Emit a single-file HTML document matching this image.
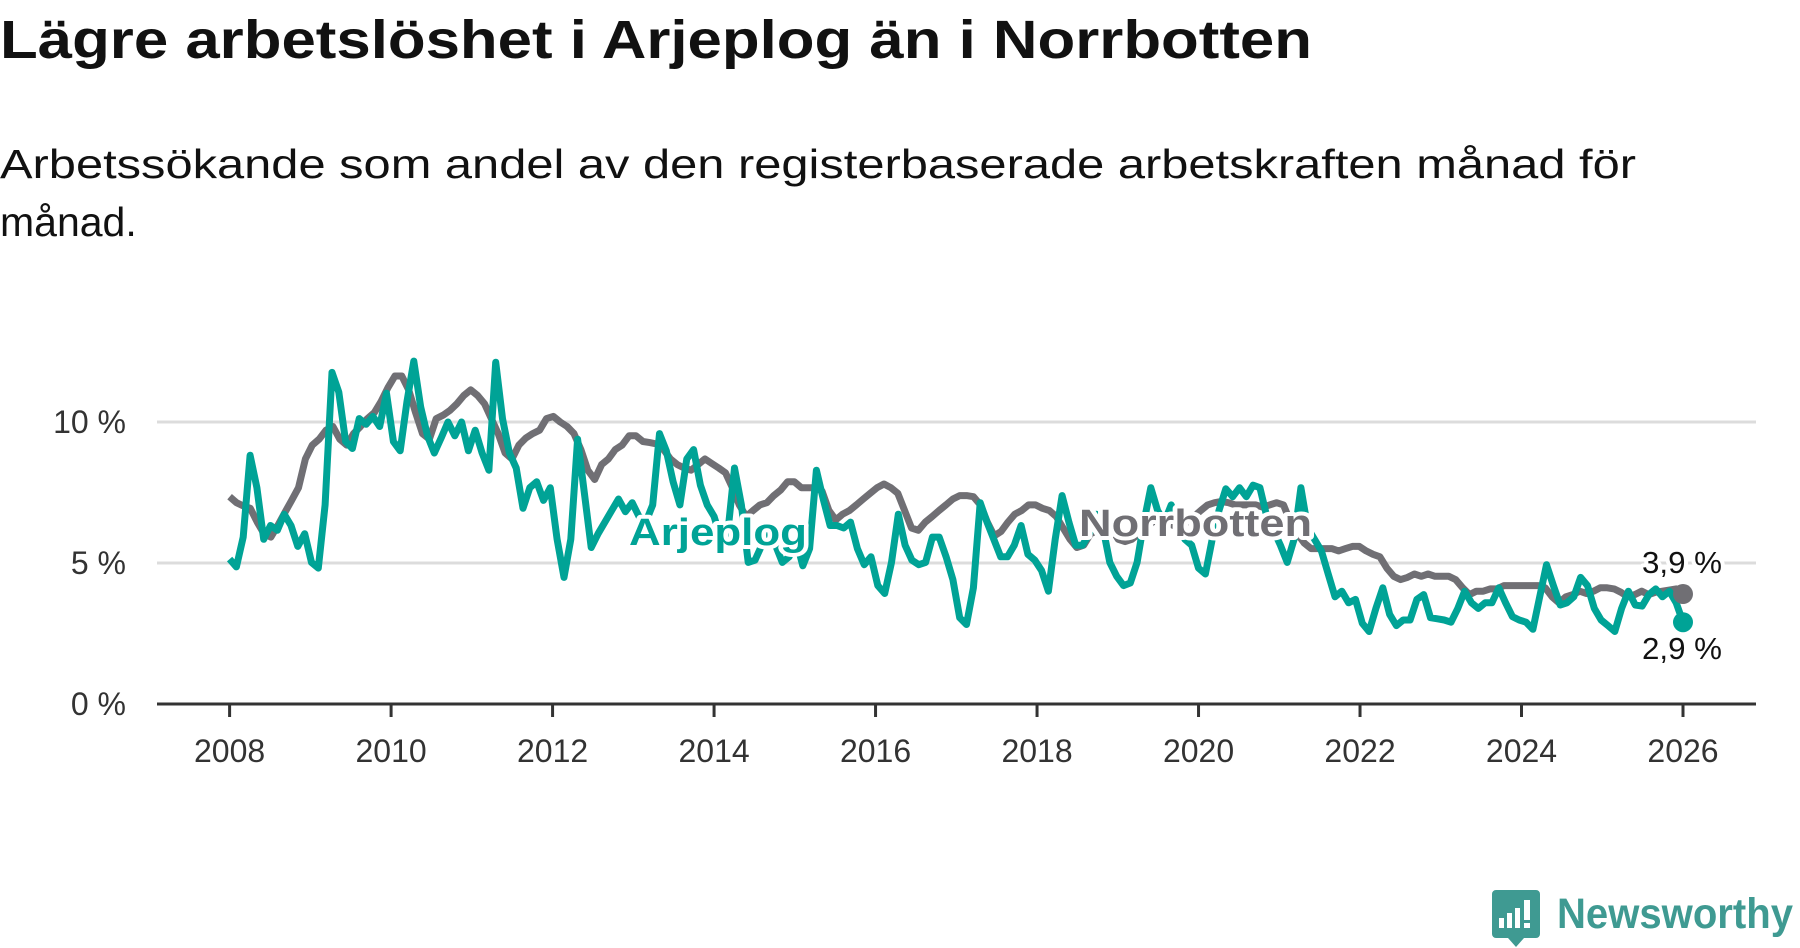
<!DOCTYPE html>
<html><head><meta charset="utf-8"><style>
html,body{margin:0;padding:0;background:#fff;width:1800px;height:948px;overflow:hidden}
svg{display:block;font-family:"Liberation Sans",sans-serif}
</style></head><body>
<svg id="chart" width="1800" height="948" viewBox="0 0 1800 948" xmlns="http://www.w3.org/2000/svg">
<text x="0" y="58" font-size="54" font-weight="bold" fill="#111" textLength="1312" lengthAdjust="spacingAndGlyphs">Lägre arbetslöshet i Arjeplog än i Norrbotten</text>
<text x="0" y="178" font-size="41" fill="#111" textLength="1636" lengthAdjust="spacingAndGlyphs">Arbetssökande som andel av den registerbaserade arbetskraften månad för</text>
<text x="0" y="236" font-size="41" fill="#111">månad.</text>
<g id="grid"></g>
<g id="series"></g>
<g id="labels"></g>
<g>
<path d="M1492 890 h44 a4 4 0 0 1 4 4 v40 a4 4 0 0 1 -4 4 h-12 l-8 9 l-8 -9 h-12 a4 4 0 0 1 -4 -4 v-40 a4 4 0 0 1 4 -4z" fill="#3f9a92"/>
<rect x="1499" y="918" width="5" height="10" fill="#fff"/><rect x="1507" y="913" width="5" height="15" fill="#fff"/><rect x="1515" y="908" width="5" height="20" fill="#fff"/><rect x="1524" y="900" width="6" height="20" fill="#fff"/><rect x="1524" y="923" width="6" height="5" fill="#fff"/>
<text x="1557" y="928" font-size="43" font-weight="bold" fill="#3f9a92" textLength="236" lengthAdjust="spacingAndGlyphs">Newsworthy</text>
</g>
</svg>
<script>
const yTicks = [0, 5, 10];
const yTickLabels = ["0 %", "5 %", "10 %"];
const xTicks = [2008, 2010, 2012, 2014, 2016, 2018, 2020, 2022, 2024, 2026];
const startYear = 2008;
const endYear = 2026;
const arjeplog = [5.14,4.86,5.92,8.82,7.67,5.84,6.33,6.16,6.73,6.33,5.59,6.04,5.02,4.82,7.06,11.76,11.06,9.31,9.06,10.12,9.92,10.2,9.84,11.02,9.31,8.98,10.73,12.16,10.53,9.51,8.9,9.43,10.0,9.51,10.0,8.98,9.71,8.9,8.29,12.12,10.12,8.9,8.37,6.94,7.67,7.88,7.22,7.67,5.84,4.49,5.84,9.39,7.47,5.55,6.04,6.45,6.86,7.27,6.82,7.14,6.65,6.45,7.06,9.59,8.98,7.88,7.06,8.69,9.02,7.76,7.06,6.65,5.84,6.04,8.37,7.06,5.02,5.1,5.63,6.24,5.63,5.02,5.22,5.84,4.9,5.51,8.29,7.27,6.33,6.33,6.24,6.45,5.51,4.94,5.22,4.2,3.92,5.02,6.73,5.63,5.1,4.94,5.02,5.92,5.92,5.22,4.41,3.06,2.82,4.12,7.14,6.45,5.84,5.22,5.22,5.63,6.33,5.31,5.1,4.73,4.0,5.84,7.39,6.45,5.63,5.63,6.04,6.73,6.24,5.02,4.53,4.2,4.29,5.02,6.45,7.67,6.86,6.45,7.06,6.45,5.84,5.63,4.82,4.61,5.84,6.86,7.63,7.35,7.67,7.35,7.76,7.67,6.65,6.16,5.63,5.02,5.84,7.67,6.24,5.84,5.43,4.61,3.8,4.0,3.59,3.71,2.86,2.57,3.39,4.12,3.18,2.78,2.98,2.98,3.71,3.88,3.06,3.02,2.98,2.9,3.39,4.0,3.59,3.39,3.59,3.59,4.12,3.59,3.1,2.98,2.9,2.65,3.8,4.94,4.2,3.51,3.59,3.8,4.49,4.2,3.39,2.98,2.78,2.57,3.39,4.0,3.51,3.47,3.88,4.08,3.8,4.0,3.59,2.9];
const norrbotten = [7.35,7.14,7.02,6.94,6.45,6.04,5.92,6.33,6.78,7.22,7.67,8.69,9.18,9.39,9.71,9.84,9.39,9.18,9.59,9.84,10.12,10.33,10.73,11.22,11.63,11.63,11.14,10.33,9.59,9.39,10.12,10.24,10.41,10.65,10.94,11.14,10.94,10.65,10.12,9.59,8.9,8.69,9.18,9.43,9.59,9.71,10.12,10.2,10.0,9.84,9.59,9.02,8.29,7.96,8.49,8.69,9.02,9.18,9.51,9.51,9.31,9.27,9.22,9.02,8.69,8.49,8.37,8.29,8.49,8.69,8.53,8.37,8.2,7.67,7.06,6.65,6.86,7.06,7.14,7.39,7.59,7.88,7.88,7.67,7.67,7.67,7.55,6.86,6.53,6.73,6.86,7.06,7.27,7.47,7.67,7.8,7.67,7.47,6.86,6.24,6.16,6.45,6.65,6.86,7.06,7.27,7.39,7.39,7.35,7.06,6.45,5.96,6.12,6.45,6.73,6.86,7.06,7.06,6.94,6.86,6.65,6.24,5.84,5.55,5.63,6.04,6.16,6.33,6.24,5.84,5.76,5.84,6.04,6.24,6.45,6.53,6.45,6.33,6.24,6.45,6.65,6.86,7.06,7.14,7.18,7.14,7.06,7.06,7.06,7.06,6.98,7.06,7.14,7.06,6.45,6.04,5.71,5.51,5.51,5.51,5.51,5.43,5.51,5.59,5.59,5.43,5.31,5.22,4.82,4.53,4.41,4.49,4.61,4.53,4.61,4.53,4.53,4.53,4.41,4.12,3.88,4.0,4.0,4.08,4.08,4.2,4.2,4.2,4.2,4.2,4.2,4.12,3.8,3.59,3.8,3.88,4.0,3.92,4.0,4.12,4.12,4.08,3.96,3.8,3.88,4.0,3.88,3.96,4.0,4.04,4.08,3.9];
const endLabels = ["3,9 %", "2,9 %"];

const NS = "http://www.w3.org/2000/svg";
const X0 = 229.6, X1 = 1683, Y0 = 704, PX_PER_PCT = 28.2;
function xScale(yr){ return X0 + (yr - startYear) * (X1 - X0) / (endYear - startYear); }
function yScale(v){ return Y0 - v * PX_PER_PCT; }
function mk(tag, attrs, parent){ const e = document.createElementNS(NS, tag); for (const k in attrs) e.setAttribute(k, attrs[k]); parent.appendChild(e); return e; }
const grid = document.getElementById('grid');
yTicks.forEach((t, i) => {
  if (t !== 0) {
    const l = mk('line', {x1:157, x2:1756, y1:yScale(t), y2:yScale(t), stroke:'#dcdcdc', 'stroke-width':3}, grid);
    
    
  }
  const tx = mk('text', {x:126, y:yScale(t)+11, 'text-anchor':'end', 'font-size':32, fill:'#333'}, grid);
  tx.textContent = yTickLabels[i];
  
  
});
const ax = mk('line', {x1:157, x2:1756, y1:Y0, y2:Y0, stroke:'#333', 'stroke-width':3}, grid);


xTicks.forEach(t => {
  const tk = mk('line', {x1:xScale(t), x2:xScale(t), y1:Y0, y2:Y0+13, stroke:'#333', 'stroke-width':3}, grid);
  
  
  const tx = mk('text', {x:xScale(t), y:762, 'text-anchor':'middle', 'font-size':32, fill:'#333'}, grid);
  tx.textContent = t;
  
  
});
const series = document.getElementById('series');
function pts(arr){ return arr.map((v,i) => xScale(startYear + i*(endYear-startYear)/(arr.length-1)).toFixed(1) + ',' + yScale(v).toFixed(1)).join(' '); }
const ln = mk('polyline', {points:pts(norrbotten), fill:'none', stroke:'#706f74', 'stroke-width':7, 'stroke-linejoin':'round'}, series);


const la = mk('polyline', {points:pts(arjeplog), fill:'none', stroke:'#00a396', 'stroke-width':7, 'stroke-linejoin':'round'}, series);


const dn = mk('circle', {cx:xScale(endYear), cy:yScale(norrbotten[norrbotten.length-1]), r:10, fill:'#706f74'}, series);


const da = mk('circle', {cx:xScale(endYear), cy:yScale(arjeplog[arjeplog.length-1]), r:10, fill:'#00a396'}, series);


const labels = document.getElementById('labels');
function halo(txt, x, y, fill, name, size, bold, len){
  const a = {x:x, y:y, 'font-size':size, 'font-weight':bold?'bold':'normal'};
  if (len) { a.textLength = len; a.lengthAdjust = 'spacingAndGlyphs'; }
  const h = mk('text', Object.assign({}, a, {fill:'none', stroke:'#fff', 'stroke-width':8, 'stroke-linejoin':'round'}), labels);
  h.textContent = txt;
  const t = mk('text', Object.assign({}, a, {fill:fill}), labels);
  t.textContent = txt;
  
  
}
halo('Arjeplog', 629, 545, '#00a396', 'arjeplog-label', 38, true, 178);
halo('Norrbotten', 1079, 536, '#706f74', 'norrbotten-label', 38, true, 233);
halo(endLabels[0], 1642, 573, '#111', 'norrbotten-end-value', 31, false, 80);
halo(endLabels[1], 1642, 659, '#111', 'arjeplog-end-value', 31, false, 80);
</script>
</body></html>
